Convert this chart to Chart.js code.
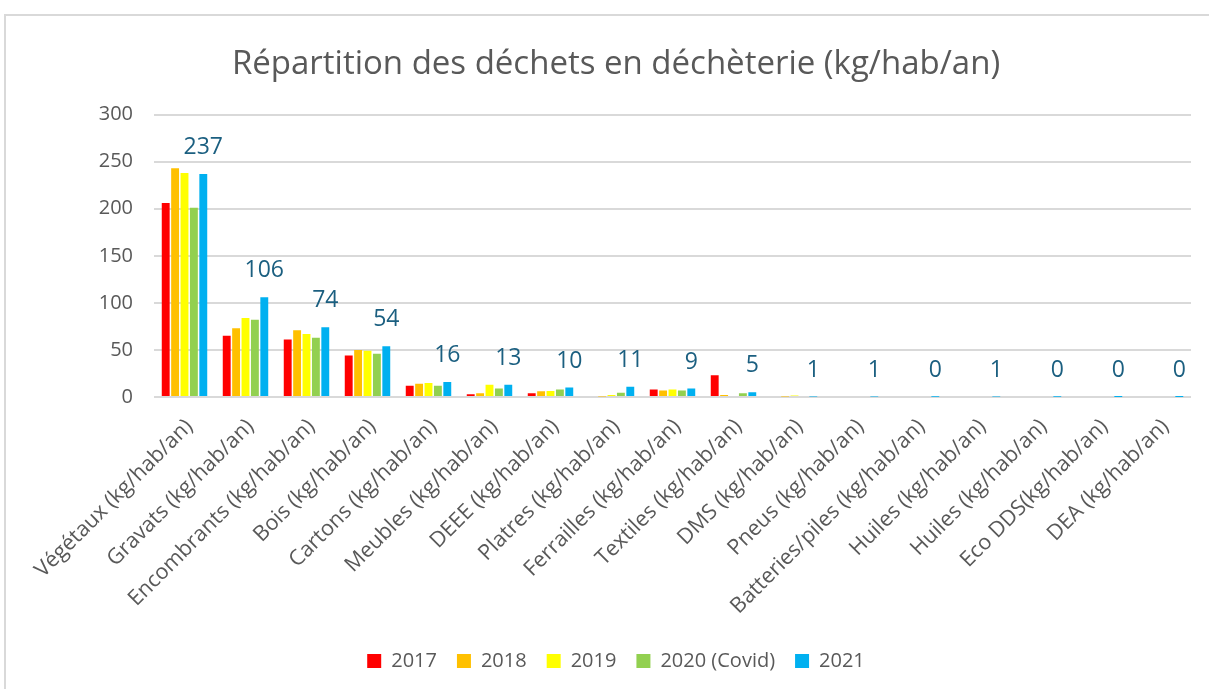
<!DOCTYPE html>
<html lang="fr">
<head>
    <meta charset="UTF-8">
    <title>Répartition des déchets en déchèterie</title>
    <style>
        html, body { margin: 0; padding: 0; background: #fff; overflow: hidden; }
        #wrap { position: relative; width: 1209px; height: 689px; }
        #frame { position: absolute; left: 4px; top: 14px; width: 1300px; height: 800px; border: 2px solid #d9d9d9; }
        canvas { position: absolute; left: 0; top: 0; }
    </style>
    <script src="https://cdn.jsdelivr.net/npm/chart.js"></script>
</head>
<body>
    <div id="wrap">
        <div id="frame"></div>
        <canvas id="chart" width="1209" height="689"></canvas>
    </div>

    <script>
        const categories = [
            'Végétaux (kg/hab/an)', 'Gravats (kg/hab/an)', 'Encombrants (kg/hab/an)', 'Bois (kg/hab/an)',
            'Cartons (kg/hab/an)', 'Meubles (kg/hab/an)', 'DEEE (kg/hab/an)', 'Platres (kg/hab/an)',
            'Ferrailles (kg/hab/an)', 'Textiles (kg/hab/an)', 'DMS (kg/hab/an)', 'Pneus (kg/hab/an)',
            'Batteries/piles (kg/hab/an)', 'Huiles (kg/hab/an)', 'Huiles (kg/hab/an)', 'Eco DDS(kg/hab/an)',
            'DEA (kg/hab/an)'
        ];
        const years = ['2017', '2018', '2019', '2020 (Covid)', '2021'];
        const colors = ['#ff0000', '#ffc000', '#ffff00', '#92d050', '#00b0f0'];

        const v2017 = [206, 65, 61, 44, 12, 3, 4, 0, 8, 23, 0, 0, 0, 0, 0, 0, 0];
        const v2018 = [243, 73, 71, 50, 14, 4, 6, 0.5, 7, 2, 0.5, 0, 0, 0, 0, 0, 0];
        const v2019 = [238, 84, 67, 49, 15, 13, 6.5, 2, 8, 0, 1.5, 0, 0, 0, 0, 0, 0];
        const v2020 = [201, 82, 63, 46, 12, 9, 8, 4.5, 7, 4, 0, 0, 0, 0, 0, 0, 0];
        const v2021 = [237, 106, 74, 54, 16, 13, 10, 11, 9, 5, 0.5, 0.5, 0.2, 0.5, 0.2, 0.1, 0.1];

        const yTicks = [0, 50, 100, 150, 200, 250, 300];

        const series = [v2017, v2018, v2019, v2020, v2021];

        // labels above the 2021 bars, like the Excel data labels
        const valueLabels = {
            id: 'valueLabels',
            afterDatasetsDraw(chart) {
                const ctx = chart.ctx;
                const meta = chart.getDatasetMeta(4);
                ctx.save();
                ctx.font = '23px "Open Sans"';
                ctx.fillStyle = '#1b5f80';
                ctx.textAlign = 'center';
                ctx.textBaseline = 'alphabetic';
                meta.data.forEach((bar, i) => {
                    ctx.fillText(Math.round(v2021[i]).toString(), bar.x, bar.y - 20);
                });
                ctx.restore();
            }
        };

        new Chart(document.getElementById('chart').getContext('2d'), {
            type: 'bar',
            data: {
                labels: categories,
                datasets: series.map((d, i) => ({
                    label: years[i],
                    data: d,
                    backgroundColor: colors[i],
                    borderWidth: 0,
                    categoryPercentage: 0.77,
                    barPercentage: 0.84
                }))
            },
            options: {
                responsive: false,
                animation: false,
                layout: { padding: { left: 41, right: 18, top: 0, bottom: 8 } },
                plugins: {
                    title: {
                        display: true,
                        text: 'Répartition des déchets en déchèterie (kg/hab/an)',
                        color: '#595959',
                        font: { family: 'Open Sans', size: 33, weight: 'normal' },
                        padding: { top: 45, bottom: 30 }
                    },
                    legend: {
                        position: 'bottom',
                        labels: {
                            color: '#595959',
                            font: { family: 'Open Sans', size: 20 },
                            boxWidth: 14,
                            boxHeight: 14,
                            padding: 20
                        }
                    },
                    tooltip: { enabled: false }
                },
                scales: {
                    x: {
                        grid: { display: false },
                        border: { display: false },
                        ticks: {
                            color: '#595959',
                            font: { family: 'Open Sans', size: 21.5 },
                            minRotation: 45,
                            maxRotation: 45,
                            autoSkip: false,
                            padding: 9,
                            labelOffset: 5
                        },
                        afterFit(scale) { scale.height = 234; }
                    },
                    y: {
                        min: 0,
                        max: 300,
                        grid: { color: '#d9d9d9', lineWidth: 2, drawTicks: false },
                        border: { display: false },
                        afterBuildTicks(scale) { scale.ticks = yTicks.map(v => ({ value: v })); },
                        ticks: {
                            color: '#595959',
                            font: { family: 'Open Sans', size: 20 },
                            padding: 21
                        },
                        afterFit(scale) { scale.width = 113; }
                    }
                }
            },
            plugins: [valueLabels]
        });
    </script>
</body>
</html>
